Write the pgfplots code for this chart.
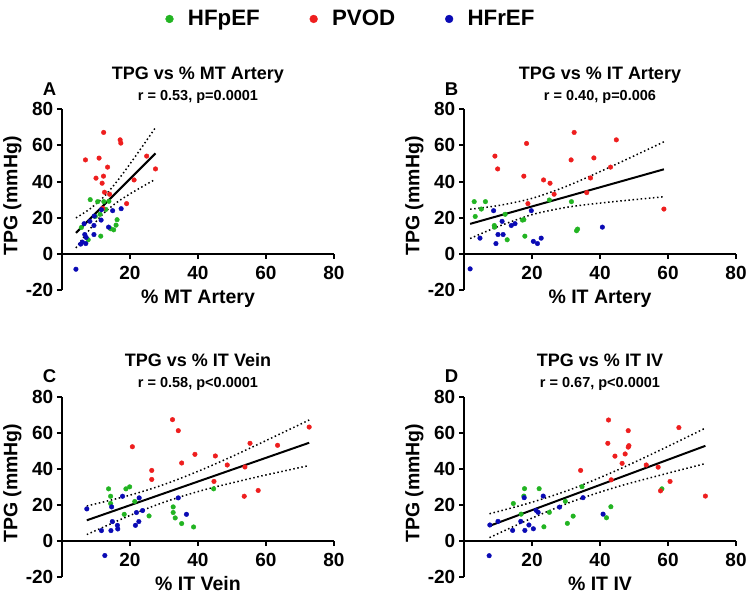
\documentclass[border=0pt]{standalone}
\usepackage{fontspec}
\setmainfont{Liberation Sans}
\usepackage{pgfplots}
\pgfplotsset{compat=1.18}
\definecolor{hgreen}{RGB}{34,180,34}
\definecolor{hred}{RGB}{238,30,30}
\definecolor{hblue}{RGB}{10,10,180}
\newcommand\fs[1]{\fontsize{#1}{#1}\selectfont\bfseries}
\pgfplotsset{
 panel/.style={
  scale only axis, width=272pt, height=180.7pt,
  xmin=0,xmax=80,ymin=-20,ymax=80,
  axis x line=middle, axis y line=left,
  axis line style={-, line width=2pt},
  tick style={line width=2pt, black},
  tick align=outside, major tick length=5pt,
  xtick={20,40,60,80}, xticklabels={20,40,60,80},
  ytick={-20,0,20,40,60,80}, yticklabels={-20,0,20,40,60,80},
  hide obscured x ticks=false, hide obscured y ticks=false,
  tick label style={font=\fs{19}},
  xticklabel style={anchor=base, inner sep=0pt, yshift=-20.3pt},
  yticklabel style={anchor=east, inner sep=0pt, xshift=-3.5pt},
  xlabel style={font=\fs{19.5}, at={(axis description cs:0.5,0)}, anchor=base, yshift=-13.6pt, inner sep=0pt},
  title style={at={(axis description cs:0.5,1)}, anchor=base, yshift=24pt, font=\fs{18}, inner sep=0pt},
  clip=false,
 },
 fitline/.style={black, line width=2pt, forget plot},
 band/.style={black, line width=1.5pt, dash pattern=on 1.5pt off 2.6pt, smooth, forget plot},
 pts/.style={only marks, mark=*, mark size=2.3pt},
}
\newcommand\sub[1]{\node[anchor=base, font=\fs{14.5}, inner sep=0pt, yshift=8.6pt] at (axis description cs:0.5,1) {#1};}
\newcommand\letter[1]{\node[anchor=base, font=\fs{18.5}, inner sep=0pt, xshift=-12.5pt, yshift=13.6pt] at (axis description cs:0,1) {#1};}
\newcommand\ylab{\node[xshift=-44.7pt, rotate=90, anchor=base, font=\fs{19.5}, inner sep=0pt] at (axis description cs:0,0.52) {TPG (mmHg)};}
\begin{document}
\begin{tikzpicture}
\useasboundingbox (0,0) rectangle (750pt,-597pt);
% ---------------- A
\begin{axis}[panel, at={(62pt,-290pt)}, anchor=south west,
  title={TPG vs \% MT Artery}, xlabel={\% MT Artery},
  legend columns=3,
  legend style={at={(axis description cs:1.059,1.50)}, anchor=center, draw=none, fill=none, inner sep=0pt,
    nodes={inner sep=0pt},
    /tikz/every odd column/.append style={column sep=14.5pt},
    /tikz/every even column/.append style={column sep=50pt}},
  legend image code/.code={\draw[#1, mark size=3.9pt] plot coordinates {(0pt,0pt)};}]
\addplot[band] coordinates {(4.1,19.9) (8,24.6) (12,31.0) (16,39.7) (20,49.8) (24,60.4) (27.5,69.9)};
\addplot[band] coordinates {(4.1,3.3) (8,13.2) (12,22.0) (16,28.3) (20,33.2) (24,37.6) (27.5,41.3)};
\addplot[fitline] coordinates {(4.1,11.6) (27.5,55.6)};
\addplot[pts, hgreen] coordinates {(8.3,30.0) (10.5,28.9) (12.3,28.9) (13.8,29.1) (12.9,24.6) (9.8,20.7) (11.2,21.9) (16.2,18.9) (15.9,15.9) (14.3,13.9) (15.2,13.3) (5.7,14.6) (11.4,9.8) (7.7,7.8)};
\addplot[pts, hred] coordinates {(12.25,67.2) (17.1,63.1) (17.3,61.3) (6.9,52.0) (10.9,53.0) (13.4,48.0) (24.9,54.1) (27.5,47.0) (10.0,41.9) (12.2,43.0) (11.8,39.1) (21.2,40.9) (12.5,34.1) (14.0,33.0) (19.0,27.8) (12.0,25.2)};
\addplot[pts, hblue] coordinates {(17.4,25.0) (11.6,24.4) (14.9,23.9) (9.5,20.9) (11.5,18.7) (6.5,16.7) (8.2,18.0) (9.4,15.7) (13.7,14.8) (6.7,10.7) (9.4,10.7) (7.1,9.1) (6.0,6.5) (7.0,5.7) (5.5,5.4) (4.1,-8.5)};
\addlegendentry{\fs{22.3}HFpEF}
\addlegendentry{\fs{22.3}PVOD}
\addlegendentry{\fs{22.3}HFrEF}
\sub{r = 0.53, p=0.0001}
\letter{A}
\ylab
\end{axis}
% ---------------- B
\begin{axis}[panel, at={(464pt,-290pt)}, anchor=south west,
  title={TPG vs \% IT Artery}, xlabel={\% IT Artery}]
\addplot[band] coordinates {(1.8,24.7) (10,26.7) (20,30.7) (30,37.3) (40,45.5) (50,54.2) (58.8,62.0)};
\addplot[band] coordinates {(1.8,8.5) (10,15.1) (20,21.7) (30,25.7) (40,28.1) (50,30.0) (58.8,31.6)};
\addplot[fitline] coordinates {(1.8,16.6) (58.8,46.8)};
\addplot[pts, hgreen] coordinates {(3.0,28.9) (6.3,28.9) (5.1,24.8) (3.3,20.7) (25.1,29.8) (31.6,28.9) (12.1,21.9) (17.2,18.7) (17.6,18.9) (8.9,15.7) (9.0,14.8) (17.9,9.8) (12.7,7.8) (33.4,13.7) (33.1,12.8)};
\addplot[pts, hred] coordinates {(32.4,67.2) (44.8,63.1) (9.1,54.1) (18.4,61.1) (9.9,47.0) (31.5,52.0) (38.2,53.1) (17.6,43.0) (23.4,40.9) (25.3,39.1) (43.1,48.0) (37.2,42.0) (36.1,33.9) (26.5,33.0) (18.8,27.8) (58.8,24.8)};
\addplot[pts, hblue] coordinates {(8.7,23.9) (19.8,23.9) (11.2,18.0) (13.9,15.7) (15.0,16.7) (10.0,10.7) (11.5,10.7) (4.7,8.7) (9.4,5.7) (20.4,6.9) (21.6,5.7) (22.7,8.7) (40.7,14.8) (1.8,-8.3)};
\sub{r = 0.40, p=0.006}
\letter{B}
\ylab
\end{axis}
% ---------------- C
\begin{axis}[panel, at={(62pt,-577.2pt)}, anchor=south west,
  title={TPG vs \% IT Vein}, xlabel={\% IT Vein}]
\addplot[band] coordinates {(7.3,19.4) (20,25.4) (30,31.3) (40,38.6) (50,46.8) (60,55.6) (72.7,67.0)};
\addplot[band] coordinates {(7.3,3.6) (20,14.2) (30,21.5) (40,27.4) (50,32.2) (60,36.6) (72.7,41.8)};
\addplot[fitline] coordinates {(7.3,11.5) (72.7,54.4)};
\addplot[pts, hgreen] coordinates {(13.7,28.9) (18.8,28.9) (19.9,30.0) (14.3,24.8) (21.4,21.9) (14.3,20.8) (44.6,28.9) (18.3,14.8) (25.6,13.9) (32.7,18.9) (32.7,15.8) (33.3,12.8) (35.2,9.7) (38.7,7.8)};
\addplot[pts, hred] coordinates {(32.5,67.2) (34.2,61.1) (20.7,52.2) (55.3,54.1) (63.4,53.0) (39.1,48.0) (45.1,47.1) (35.2,43.2) (48.6,42.1) (53.8,41.0) (26.4,39.1) (26.4,34.1) (44.7,33.0) (57.7,28.0) (53.6,24.8) (72.7,63.1)};
\addplot[pts, hblue] coordinates {(7.3,17.8) (17.8,24.8) (22.7,23.9) (34.2,23.9) (14.6,18.9) (23.7,16.9) (21.9,15.8) (36.6,14.8) (14.8,10.8) (22.6,10.8) (21.6,8.7) (16.3,8.7) (16.4,6.7) (11.6,5.8) (14.4,5.8) (12.6,-8.0)};
\sub{r = 0.58, p<0.0001}
\letter{C}
\ylab
\end{axis}
% ---------------- D
\begin{axis}[panel, at={(464pt,-577.2pt)}, anchor=south west,
  title={TPG vs \% IT IV}, xlabel={\% IT IV}]
\addplot[band] coordinates {(7.5,15.1) (20,21.5) (32,29.0) (45,39.2) (58,50.6) (71,62.5)};
\addplot[band] coordinates {(7.5,1.9) (20,12.7) (32,22.0) (45,30.0) (58,36.6) (71,42.9)};
\addplot[fitline] coordinates {(7.5,8.4) (71,52.7)};
\addplot[pts, hgreen] coordinates {(17.8,29.0) (22.1,29.0) (17.6,24.9) (14.5,20.8) (34.7,30.1) (16.8,14.9) (25.1,15.9) (29.8,22.0) (32.1,13.8) (30.4,9.8) (23.5,7.9) (43.2,19.0) (41.9,12.9) (58.2,28.9)};
\addplot[pts, hred] coordinates {(42.5,67.0) (42.3,54.1) (48.3,61.1) (48.5,52.8) (48.3,52.0) (44.4,47.0) (47.4,48.2) (46.5,43.0) (34.3,39.1) (43.3,33.9) (53.6,42.1) (63.2,62.8) (57.1,40.9) (60.6,33.0) (57.8,27.8) (71.0,24.9)};
\addplot[pts, hblue] coordinates {(17.7,24.0) (23.3,24.9) (35.0,24.0) (21.2,17.0) (21.8,15.9) (28.1,18.8) (16.7,10.9) (19.1,8.9) (20.4,6.8) (17.9,5.9) (7.6,8.9) (10.0,10.9) (14.3,5.9) (40.9,14.9) (7.4,-8.1)};
\sub{r = 0.67, p<0.0001}
\letter{D}
\ylab
\end{axis}
\end{tikzpicture}
\end{document}
